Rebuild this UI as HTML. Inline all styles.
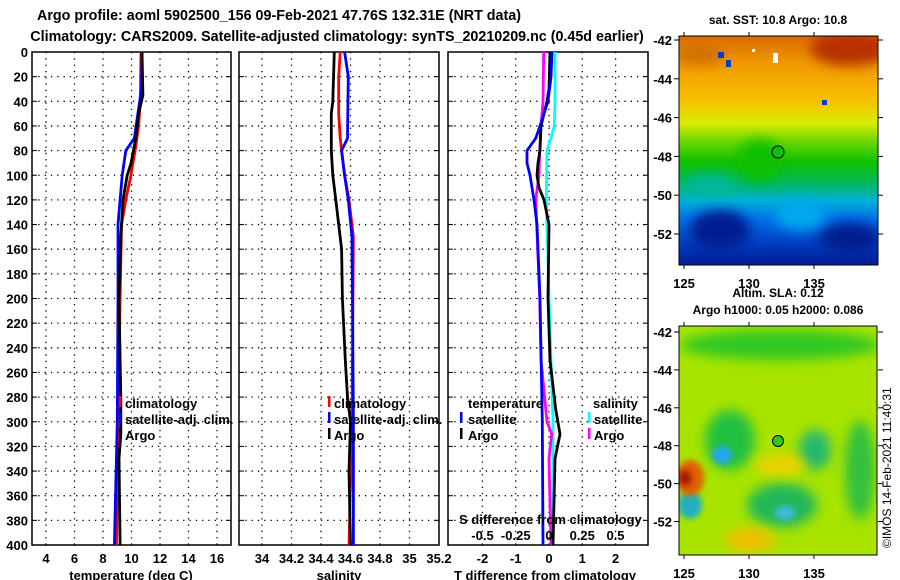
<!DOCTYPE html>
<html><head><meta charset="utf-8"><style>
html,body{margin:0;padding:0;background:#fff;}
svg{display:block;font-family:"Liberation Sans",sans-serif;font-weight:bold;}
</style></head><body>
<svg id="c" width="900" height="580" viewBox="0 0 900 580">
<defs>
<linearGradient id="sstg" x1="0" y1="0" x2="0" y2="1">
<stop offset="0" stop-color="#d86a00"/><stop offset="0.12" stop-color="#f09a00"/><stop offset="0.28" stop-color="#f8c000"/>
<stop offset="0.38" stop-color="#d8ec00"/><stop offset="0.47" stop-color="#60d400"/><stop offset="0.55" stop-color="#10c000"/>
<stop offset="0.64" stop-color="#00b858"/><stop offset="0.72" stop-color="#00b0d8"/><stop offset="0.8" stop-color="#0070e8"/>
<stop offset="0.9" stop-color="#0040c0"/><stop offset="1" stop-color="#001c98"/></linearGradient>
<filter id="bl" x="-50%" y="-50%" width="200%" height="200%"><feGaussianBlur stdDeviation="6"/></filter>
<filter id="bl2" x="-50%" y="-50%" width="200%" height="200%"><feGaussianBlur stdDeviation="3"/></filter>
<clipPath id="m1c"><rect x="679" y="36" width="199" height="229"/></clipPath>
<clipPath id="m2c"><rect x="679" y="326" width="198" height="229"/></clipPath>
</defs>
<text x="279" y="20" text-anchor="middle" font-size="14.3">Argo profile: aoml 5902500_156 09-Feb-2021 47.76S 132.31E (NRT data)</text>
<text x="337" y="41" text-anchor="middle" font-size="14.3">Climatology: CARS2009. Satellite-adjusted climatology: synTS_20210209.nc (0.45d earlier)</text>

<g>
<g clip-path="url(#m1c)">
<rect x="679" y="36" width="199" height="229" fill="url(#sstg)"/>
<ellipse cx="850" cy="48" rx="40" ry="18" fill="#b83000" filter="url(#bl)"/>
<ellipse cx="700" cy="55" rx="25" ry="10" fill="#d07000" filter="url(#bl)"/>
<ellipse cx="720" cy="230" rx="30" ry="20" fill="#001a90" filter="url(#bl)"/>
<ellipse cx="850" cy="238" rx="30" ry="15" fill="#001a90" filter="url(#bl)"/>
<ellipse cx="800" cy="215" rx="25" ry="15" fill="#00a8f0" filter="url(#bl)"/>
<ellipse cx="760" cy="160" rx="22" ry="20" fill="#10c000" filter="url(#bl)"/>
<ellipse cx="710" cy="185" rx="25" ry="10" fill="#00b8a0" filter="url(#bl)"/>
<rect x="718" y="52" width="6" height="6" fill="#0040c0"/><rect x="726" y="60" width="5" height="7" fill="#0040c0"/>
<rect x="773" y="53" width="5" height="10" fill="#fff"/><rect x="752" y="49" width="3" height="3" fill="#fff"/>
<rect x="822" y="100" width="5" height="5" fill="#0040c0"/>
</g>
<rect x="679" y="36" width="199" height="229" fill="none" stroke="#000"/>
<circle cx="778" cy="152" r="6" fill="#10c000" stroke="#000"/>
</g>
<text x="778" y="24" text-anchor="middle" font-size="12">sat. SST: 10.8 Argo: 10.8</text>

<g>
<g clip-path="url(#m2c)">
<rect x="679" y="326" width="198" height="229" fill="#a8e400"/>
<ellipse cx="780" cy="345" rx="100" ry="15" fill="#30c820" filter="url(#bl)"/>
<ellipse cx="730" cy="440" rx="25" ry="30" fill="#20c040" filter="url(#bl)"/>
<ellipse cx="722" cy="455" rx="10" ry="9" fill="#20a8e8" filter="url(#bl2)"/>
<ellipse cx="815" cy="450" rx="16" ry="20" fill="#20b870" filter="url(#bl)"/>
<ellipse cx="782" cy="505" rx="35" ry="22" fill="#20b858" filter="url(#bl)"/>
<ellipse cx="785" cy="513" rx="10" ry="7" fill="#40b8e0" filter="url(#bl2)"/>
<ellipse cx="690" cy="505" rx="12" ry="14" fill="#20b0c0" filter="url(#bl2)"/>
<ellipse cx="860" cy="470" rx="15" ry="50" fill="#30c040" filter="url(#bl)"/>
<ellipse cx="690" cy="478" rx="14" ry="18" fill="#e06000" filter="url(#bl2)"/>
<ellipse cx="685" cy="478" rx="6" ry="8" fill="#a01800" filter="url(#bl2)"/>
<ellipse cx="780" cy="465" rx="25" ry="10" fill="#f0d000" filter="url(#bl)"/>
<ellipse cx="750" cy="540" rx="25" ry="12" fill="#f0c000" filter="url(#bl)"/>
</g>
<rect x="679" y="326" width="198" height="229" fill="none" stroke="#000"/>
<circle cx="778" cy="441" r="5.5" fill="#30c820" stroke="#000"/>
</g>
<text x="778" y="297" text-anchor="middle" font-size="12">Altim. SLA: 0.12</text>
<text x="778" y="314" text-anchor="middle" font-size="12">Argo h1000: 0.05 h2000: 0.086</text>
<text transform="translate(891,548) rotate(-90)" font-size="12" font-weight="normal">©IMOS 14-Feb-2021 11:40:31</text>
<g id="dyn"></g>
</svg>
<script>
// ---- data ----
const depthTicks=[0,20,40,60,80,100,120,140,160,180,200,220,240,260,280,300,320,340,360,380,400];
const tempTicks=[4,6,8,10,12,14,16];
const salTicks=[34,34.2,34.4,34.6,34.8,35,35.2];
const tdiffTicks=[-2,-1,0,1,2];
const sdiffTicks=[-0.5,-0.25,0,0.25,0.5];
const tClimDepth=[0,40,60,80,100,120,140,200,300,400];
const tClim=[10.67,10.62,10.5,10.25,9.96,9.6,9.3,9.2,9.05,8.95];
const tSatDepth=[0,30,50,70,80,100,120,140,200,300,400];
const tSat=[10.74,10.7,10.45,10.2,9.6,9.35,9.2,9.05,9.05,9.0,8.8];
const tArgoDepth=[0,35,50,70,90,100,120,150,200,280,310,330,400];
const tArgo=[10.74,10.8,10.5,10.3,9.97,9.7,9.4,9.25,9.12,9.25,9.25,9.12,9.2];
const sClimDepth=[0,20,50,70,80,100,120,150,300,400];
const sClim=[34.53,34.52,34.52,34.53,34.54,34.56,34.59,34.62,34.61,34.59];
const sSatDepth=[0,20,70,80,100,120,150,300,400];
const sSat=[34.56,34.585,34.58,34.54,34.56,34.585,34.61,34.62,34.62];
const sArgoDepth=[0,40,50,80,100,120,140,160,200,250,280,300,340,400];
const sArgo=[34.49,34.48,34.47,34.47,34.48,34.5,34.52,34.54,34.545,34.565,34.58,34.6,34.59,34.6];
const dTSatDepth=[0,20,40,60,70,80,90,100,120,140,160,200,300,400];
const dTSat=[0.09,0.06,-0.03,-0.27,-0.4,-0.66,-0.66,-0.57,-0.45,-0.36,-0.33,-0.27,-0.2,-0.18];
const dTArgoDepth=[0,30,40,60,80,90,100,110,120,140,200,250,290,310,330,400];
const dTArgo=[0.03,0,-0.06,-0.24,-0.27,-0.33,-0.36,-0.3,-0.15,0,-0.03,0.03,0.2,0.33,0.18,0.12];
const dSArgoDepth=[0,40,60,80,100,120,160,200,250,300,310,330,400];
const dSArgo=[-0.04,-0.045,-0.06,-0.07,-0.075,-0.1,-0.085,-0.07,-0.06,-0.015,0.02,0,0.015];
const dSSatDepth=[0,40,60,70,80,120,200,250,300,400];
const dSSat=[0.045,0.045,0.04,0.015,-0.015,-0.02,0,0.015,0.03,0.03];
const latTicks=[-42,-44,-46,-48,-50,-52];
const lonTicks=[125,130,135];

const NS='http://www.w3.org/2000/svg';
const G=document.getElementById('dyn');
function el(t,a,p){const e=document.createElementNS(NS,t);for(const k in a)e.setAttribute(k,a[k]);(p||G).appendChild(e);return e;}
const Y0=52,Y1=545;
const yD=d=>Y0+d*(Y1-Y0)/400;
const panels=[
 {x0:32,x1:231,f:v=>46+(v-4)*14.25,ticks:tempTicks,lab:'temperature (deg C)',name:'temperature-panel',labx:131},
 {x0:239,x1:439,f:v=>262+(v-34)*147.5,ticks:salTicks,lab:'salinity',name:'salinity-panel',labx:339},
 {x0:448,x1:648,f:v=>549+v*33.3,ticks:tdiffTicks,lab:'T difference from climatology',name:'difference-panel',labx:545}
];
panels.forEach((p,i)=>{
 const g=el('g',{});
 
 
 depthTicks.forEach(d=>{
  if(d>0&&d<400){const l=el('line',{x1:p.x0,x2:p.x1,y1:yD(d),y2:yD(d),stroke:'#000','stroke-width':1.3,'stroke-dasharray':'1.3,5'},g);
   
   el('line',{x1:p.x0,x2:p.x0+5,y1:yD(d),y2:yD(d),stroke:'#000'},g);el('line',{x1:p.x1-5,x2:p.x1,y1:yD(d),y2:yD(d),stroke:'#000'},g);}
  if(i===0){const t=el('text',{x:28,y:yD(d)+5,'text-anchor':'end','font-size':13},g);t.textContent=d;
   }
 });
 p.ticks.forEach(v=>{
  const x=p.f(v);
  if(x>p.x0+2&&x<p.x1-2){const l=el('line',{x1:x,x2:x,y1:Y0,y2:Y1,stroke:'#000','stroke-width':1.3,'stroke-dasharray':'1.3,5'},g);
   }
  const t=el('text',{x:x,y:563,'text-anchor':'middle','font-size':13},g);t.textContent=v;
  
 });
 const r=el('rect',{x:p.x0,y:Y0,width:p.x1-p.x0,height:Y1-Y0,fill:'none',stroke:'#000','stroke-width':1.5},g);
 
 const t=el('text',{x:p.labx,y:580,'text-anchor':'middle','font-size':13},g);t.textContent=p.lab;
 
});
function line(depths,vals,f,color,name){
 const pts=depths.map((d,i)=>f(vals[i]).toFixed(1)+','+yD(d).toFixed(1)).join(' ');
 const l=el('polyline',{points:pts,fill:'none',stroke:color,'stroke-width':2.8});
 
 
}
const fT=panels[0].f,fS=panels[1].f,fdT=panels[2].f,fdS=v=>549+v*133;
line(tClimDepth,tClim,fT,'#f00','temp-climatology-line');
line(tSatDepth,tSat,fT,'#00f','temp-satellite-line');
line(tArgoDepth,tArgo,fT,'#000','temp-argo-line');
line(sClimDepth,sClim,fS,'#f00','sal-climatology-line');
line(sSatDepth,sSat,fS,'#00f','sal-satellite-line');
line(sArgoDepth,sArgo,fS,'#000','sal-argo-line');
line(dSSatDepth,dSSat,fdS,'#0ff','sdiff-satellite-line');
line(dSArgoDepth,dSArgo,fdS,'#f0f','sdiff-argo-line');
line(dTArgoDepth,dTArgo,fdT,'#000','tdiff-argo-line');
line(dTSatDepth,dTSat,fdT,'#00f','tdiff-satellite-line');
sdiffTicks.forEach(v=>{const t=el('text',{x:fdS(v),y:540,'text-anchor':'middle','font-size':13});t.textContent=v;
 });
function txt(x,y,s,name,anchor){const t=el('text',{x:x,y:y,'font-size':13,'text-anchor':anchor||'start'});t.textContent=s;
 }
function mark(x,y,c){const r=el('rect',{x:x,y:y-12,width:2.5,height:11,fill:c});
 }
txt(459,524,'S difference from climatology','sdiff-axis-title');
mark(119,408,'#f00');txt(125,408,'climatology','legend-entry');
mark(119,424,'#00f');txt(125,424,'satellite-adj. clim.','legend-entry');
mark(119,440,'#000');txt(125,440,'Argo','legend-entry');
mark(328,408,'#f00');txt(334,408,'climatology','legend-entry');
mark(328,424,'#00f');txt(334,424,'satellite-adj. clim.','legend-entry');
mark(328,440,'#000');txt(334,440,'Argo','legend-entry');
txt(468,408,'temperature','legend-header');txt(593,408,'salinity','legend-header');
mark(460,424,'#00f');txt(468,424,'satellite','legend-entry');
mark(460,440,'#000');txt(468,440,'Argo','legend-entry');
mark(588,424,'#0ff');txt(594,424,'satellite','legend-entry');
mark(588,440,'#f0f');txt(594,440,'Argo','legend-entry');
// map axes
[[36,265,40,19.4],[326,555,332,18.95]].forEach((m,mi)=>{
 const lonF=v=>684+(v-125)*13;
 latTicks.forEach(la=>{const y=m[2]+(-42-la)*m[3];
  el('line',{x1:674,x2:679,y1:y,y2:y,stroke:'#000'});el('line',{x1:878,x2:883,y1:y,y2:y,stroke:'#000'});
  const t=el('text',{x:672,y:y+5,'text-anchor':'end','font-size':13});t.textContent=la;
  });
 lonTicks.forEach(lo=>{const x=lonF(lo);
  el('line',{x1:x,x2:x,y1:m[0]-4,y2:m[0],stroke:'#000'});el('line',{x1:x,x2:x,y1:m[1],y2:m[1]+4,stroke:'#000'});
  const t=el('text',{x:x,y:mi?578:288,'text-anchor':'middle','font-size':13});t.textContent=lo;
  });
});
</script>
</body></html>
